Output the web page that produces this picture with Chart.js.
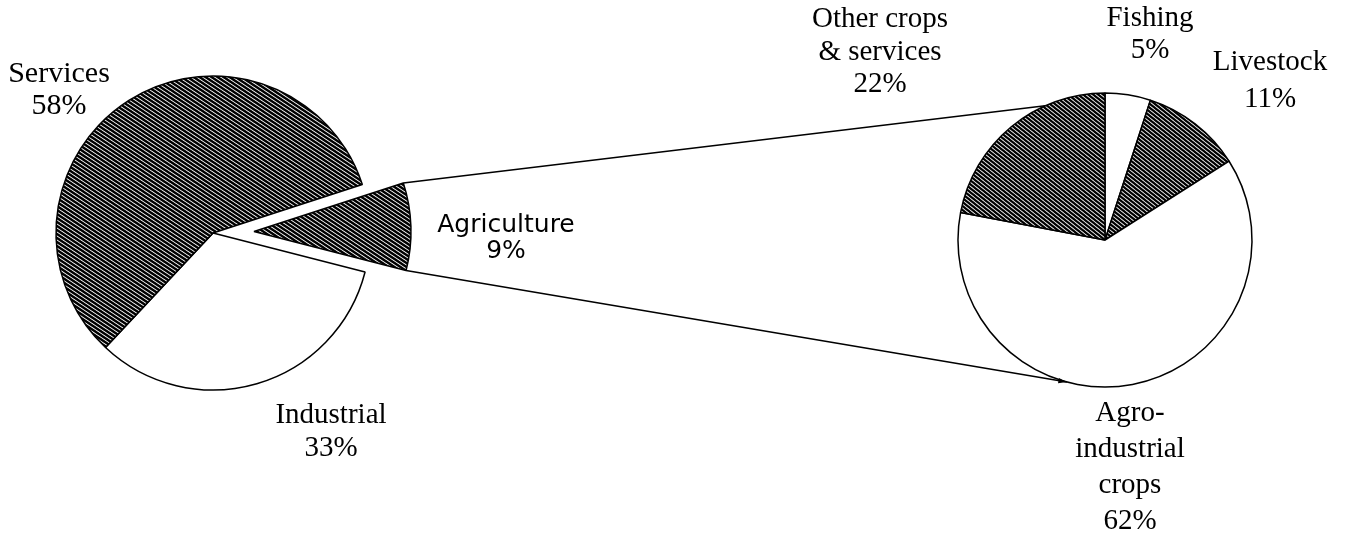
<!DOCTYPE html>
<html>
<head>
<meta charset="utf-8">
<title>Sector shares</title>
<script src="https://cdn.jsdelivr.net/npm/chart.js"></script>
<style>
    html, body { margin: 0; padding: 0; background: #fff; }
    #wrap { position: relative; width: 1345px; height: 543px; }
    #wrap canvas { position: absolute; left: 0; top: 0; }
</style>
</head>
<body>
<div id="wrap">
    <canvas id="leftPie" width="1345" height="543"></canvas>
    <canvas id="agriSlice" width="1345" height="543"></canvas>
    <canvas id="rightPie" width="1345" height="543"></canvas>
</div>
<script>
// Economy split (left pie), order is clockwise starting at Agriculture
let economyLabels = ['Agriculture', 'Industrial', 'Services'];
let economyValues = [9, 33, 58];

// Agriculture split (right pie), clockwise from 12 o'clock
let agriLabels = ['Fishing', 'Livestock', 'Agro-industrial crops', 'Other crops & services'];
let agriValues = [5, 11, 62, 22];

// Text shown next to the pies
let economyText = [['Agriculture', '9%'], ['Industrial', '33%'], ['Services', '58%']];
let agriText = [['Fishing', '5%'], ['Livestock', '11%'], ['Agro-', 'industrial', 'crops', '62%'], ['Other crops', '& services', '22%']];

// Where each label block goes: centre x and baseline of every line
let economyTextPos = [
    { x: 506, base: [232, 258], font: '25px "DejaVu Sans"' },
    { x: 331, base: [423, 456], font: '29px "Liberation Serif"' },
    { x: 59, base: [82, 114], font: '30px "Liberation Serif"' }
];
let agriTextPos = [
    { x: 1150, base: [26, 58], font: '29px "Liberation Serif"' },
    { x: 1270, base: [70, 107], font: '29px "Liberation Serif"' },
    { x: 1130, base: [421, 457, 493, 529], font: '29px "Liberation Serif"' },
    { x: 880, base: [27, 60, 92], font: '29px "Liberation Serif"' }
];

// Diagonal hatch fill: one stripe falling from top-left to bottom-right per tile
function hatch(w, h, lineWidth) {
    let tile = document.createElement('canvas');
    tile.width = w;
    tile.height = h;
    let c = tile.getContext('2d');
    c.fillStyle = '#fff';
    c.fillRect(0, 0, w, h);
    c.strokeStyle = '#000';
    c.lineWidth = lineWidth;
    for (let k = -1; k <= 1; k++) {
        c.beginPath();
        c.moveTo(-w, k * h - h);
        c.lineTo(2 * w, k * h + 2 * h);
        c.stroke();
    }
    return c.createPattern(tile, 'repeat');
}

function drawText(ctx, lines, pos) {
    ctx.save();
    ctx.fillStyle = '#000';
    ctx.font = pos.font;
    ctx.textAlign = 'center';
    ctx.textBaseline = 'alphabetic';
    lines.forEach((line, i) => ctx.fillText(line, pos.x, pos.base[i]));
    ctx.restore();
}

let denseHatch = hatch(6, 4, 2.4);
let agriHatch = hatch(6, 4, 2.4);
let smallHatch = hatch(5, 4, 2.2);
let none = 'rgba(0,0,0,0)';

let baseOptions = {
    responsive: false,
    animation: false,
    events: [],
    rotation: 72,
    plugins: {
        legend: { display: false },
        tooltip: { enabled: false },
        title: { display: false }
    }
};

// Left pie labels
let economyLabelPlugin = {
    id: 'economyLabels',
    afterDraw(chart) {
        economyText.forEach((lines, i) => drawText(chart.ctx, lines, economyTextPos[i]));
    }
};

// Left pie without the Agriculture wedge (it is drawn pulled out below)
let leftChart = new Chart(document.getElementById('leftPie'), {
    type: 'pie',
    data: {
        labels: economyLabels,
        datasets: [{
            data: economyValues,
            backgroundColor: [none, '#ffffff', denseHatch],
            borderColor: [none, '#000', '#000'],
            borderWidth: [0, 1.5, 1.5],
            radius: 157
        }]
    },
    options: {
        ...baseOptions,
        layout: { padding: { left: 0, right: 919, top: 0, bottom: 77 } }
    },
    plugins: [economyLabelPlugin]
});

// Same pie shifted right, only the Agriculture wedge visible
let sliceChart = new Chart(document.getElementById('agriSlice'), {
    type: 'pie',
    data: {
        labels: economyLabels,
        datasets: [{
            data: economyValues,
            backgroundColor: [agriHatch, none, none],
            borderColor: ['#000', none, none],
            borderWidth: [1.5, 0, 0],
            radius: 157
        }]
    },
    options: {
        ...baseOptions,
        layout: { padding: { left: 0, right: 837, top: 0, bottom: 80 } }
    }
});

// Lines linking the pulled-out Agriculture slice to the right pie, plus labels
let linkPlugin = {
    id: 'linkLines',
    afterDraw(chart) {
        let ctx = chart.ctx;
        let slice = sliceChart.getDatasetMeta(0).data[0];
        let r = slice.outerRadius;
        let a1 = [slice.x + r * Math.cos(slice.startAngle), slice.y + r * Math.sin(slice.startAngle)];
        let a2 = [slice.x + r * Math.cos(slice.endAngle), slice.y + r * Math.sin(slice.endAngle)];

        let pie = chart.getDatasetMeta(0).data[0];
        let pr = pie.outerRadius;
        let topAngle = -114 * Math.PI / 180;
        let botAngle = 105 * Math.PI / 180;
        let b1 = [pie.x + pr * Math.cos(topAngle), pie.y + pr * Math.sin(topAngle)];
        let b2 = [pie.x + pr * Math.cos(botAngle), pie.y + pr * Math.sin(botAngle)];

        ctx.save();
        ctx.strokeStyle = '#000';
        ctx.lineWidth = 1.5;
        ctx.beginPath();
        ctx.moveTo(a1[0], a1[1]);
        ctx.lineTo(b1[0], b1[1]);
        ctx.moveTo(a2[0], a2[1]);
        ctx.lineTo(b2[0], b2[1]);
        ctx.stroke();
        // small arrow head at the lower end
        let ang = Math.atan2(b2[1] - a2[1], b2[0] - a2[0]);
        ctx.fillStyle = '#000';
        ctx.beginPath();
        ctx.moveTo(b2[0], b2[1]);
        ctx.lineTo(b2[0] - 9 * Math.cos(ang - 0.3), b2[1] - 9 * Math.sin(ang - 0.3));
        ctx.lineTo(b2[0] - 9 * Math.cos(ang + 0.3), b2[1] - 9 * Math.sin(ang + 0.3));
        ctx.closePath();
        ctx.fill();
        ctx.restore();

        agriText.forEach((lines, i) => drawText(ctx, lines, agriTextPos[i]));
    }
};

let rightChart = new Chart(document.getElementById('rightPie'), {
    type: 'pie',
    data: {
        labels: agriLabels,
        datasets: [{
            data: agriValues,
            backgroundColor: ['#ffffff', smallHatch, '#ffffff', smallHatch],
            borderColor: '#000',
            borderWidth: 1.5,
            radius: 147
        }]
    },
    options: {
        ...baseOptions,
        rotation: 0,
        layout: { padding: { left: 905, right: 40, top: 40, bottom: 103 } }
    },
    plugins: [linkPlugin]
});
</script>
</body>
</html>
